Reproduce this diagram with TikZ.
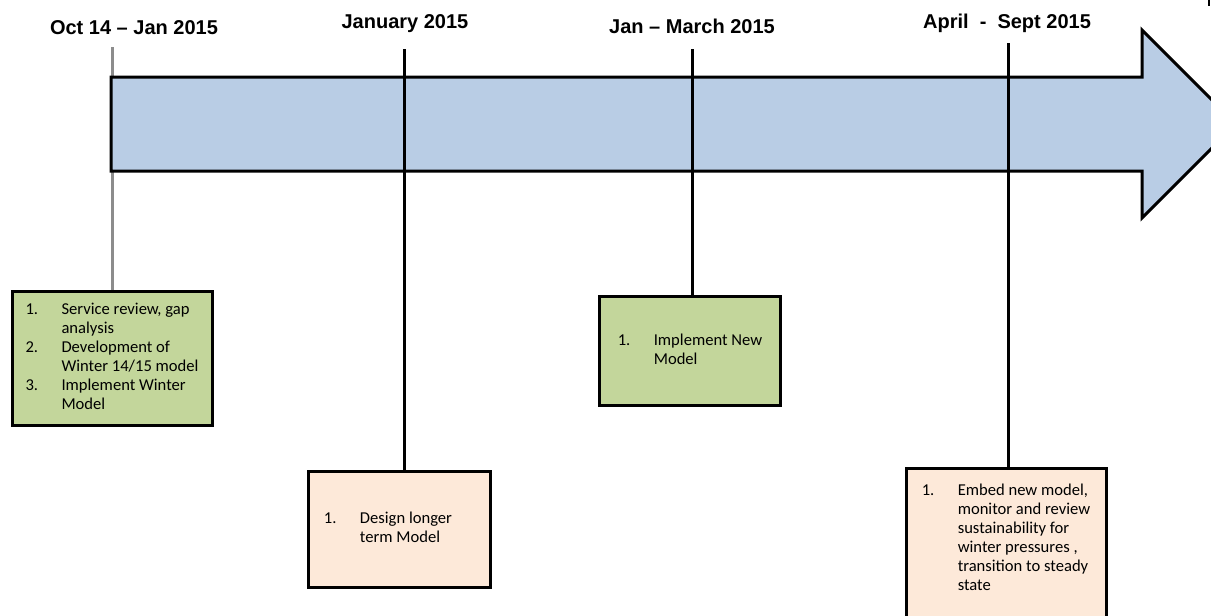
\documentclass[tikz,border=0pt]{standalone}
\usepackage{fontspec}
\setmainfont{Liberation Sans}
\newfontfamily\calibri{Carlito}
\usepackage{tikz}

\definecolor{barblue}{HTML}{B9CDE5}
\definecolor{taskgreen}{HTML}{C3D69B}
\definecolor{taskpeach}{HTML}{FDE9D9}
\definecolor{stemgrey}{HTML}{8C8C8C}

\begin{document}
\begin{tikzpicture}[x=1pt,y=-1pt,line width=3pt,
    period/.style={anchor=base,inner sep=0pt,font=\bfseries\fontsize{20}{22}\selectfont},
    task/.style={draw=black,line width=3pt,inner sep=0pt,align=left,font=\calibri\fontsize{16.6}{19}\selectfont},
    stem/.style={draw=black,line width=3pt}]
    \clip (0,0) rectangle (1211,616);

    % periods along the top
    \node[period] (p0) at (134,34) {Oct 14 -- Jan 2015};
    \node[period] (p1) at (405,28) {January 2015};
    \node[period] (p2) at (692,33) {Jan -- March 2015};
    \node[period] (p3) at (1007,28) {April~~-~~Sept 2015};

    \coordinate (s0) at (112,47);
    \coordinate (s1) at (404,49);
    \coordinate (s2) at (692,49);
    \coordinate (s3) at (1008,43);

    % task boxes
    \node[task,fill=taskgreen,minimum width=200,minimum height=134] (t0) at (112,358)
        {\begin{tabular}{@{}p{36pt}@{}l@{}}
        1. & Service review, gap\\
           & analysis\\
        2. & Development of\\
           & Winter 14/15 model\\
        3. & Implement Winter\\
           & Model
        \end{tabular}};
    \node[task,fill=taskpeach,minimum width=182,minimum height=116] (t1) at (399,529)
        {\begin{tabular}{@{}p{36pt}@{}l@{\hspace{22pt}}}
        1. & Design longer\\
           & term Model
        \end{tabular}};
    \node[task,fill=taskgreen,minimum width=181,minimum height=109] (t2) at (690,351)
        {\begin{tabular}{@{}p{36pt}@{}l@{}}
        1. & Implement New\\
           & Model
        \end{tabular}};
    \node[task,fill=taskpeach,minimum width=200,minimum height=180] (t3) at (1006,558)
        {\begin{tabular}{@{}p{36pt}@{}l@{}}
        1. & Embed new model,\\
           & monitor and review\\
           & sustainability for\\
           & winter pressures ,\\
           & transition to steady\\
           & state\\
           & \\
           &
        \end{tabular}};

    % grey stem sits behind the bar
    \draw[line width=3pt,stemgrey] (s0) -- (s0 |- t0.north);

    % timeline bar
    \draw[fill=barblue,line width=3pt,line join=miter]
        (111,77) -- (1142,77) -- (1142,30) -- (1236,124) -- (1142,218)
        -- (1142,171) -- (111,171) -- cycle;

    \draw[stem] (s1) -- (s1 |- t1.north);
    \draw[stem] (s2) -- (s2 |- t2.north);
    \draw[stem] (s3) -- (s3 |- t3.north);

    \draw[line width=2pt] (1209,0) -- (1209,6);
\end{tikzpicture}
\end{document}
